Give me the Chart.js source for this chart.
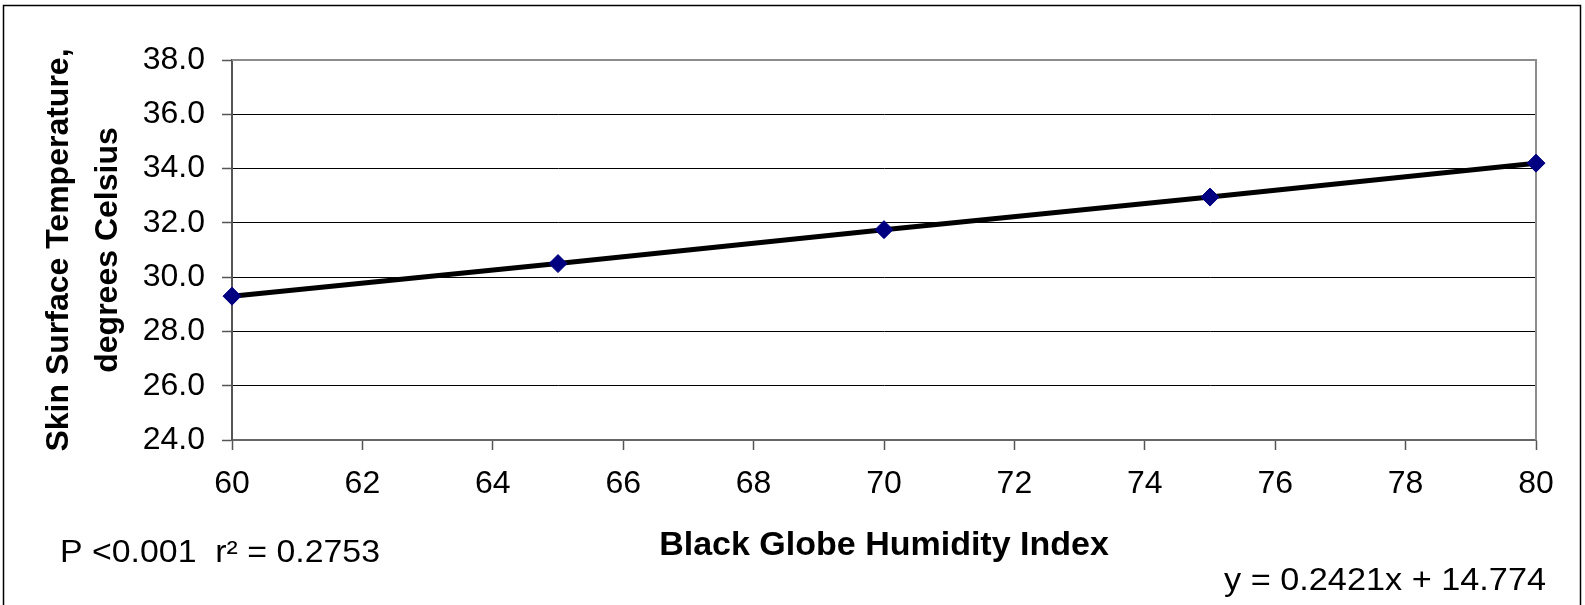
<!DOCTYPE html>
<html>
<head>
<meta charset="utf-8">
<script src="https://cdn.jsdelivr.net/npm/chart.js@4.4.0/dist/chart.umd.min.js"></script>
<style>
  html, body { margin: 0; padding: 0; background: #fff; }
  #wrap { width: 1585px; height: 605px; }
</style>
</head>
<body>
<div id="wrap"><canvas id="c" width="1585" height="605"></canvas></div>
<script>
// ---- data ----
const bghiValues = [60, 65, 70, 75, 80];
const skinTemps = [29.3, 30.5, 31.75, 32.95, 34.2];
const yTickLabels = ['24.0', '26.0', '28.0', '30.0', '32.0', '34.0', '36.0', '38.0'];
const yTickValues = [24, 26, 28, 30, 32, 34, 36, 38];
const xTickLabels = ['60', '62', '64', '66', '68', '70', '72', '74', '76', '78', '80'];
const yAxisTitle = ['Skin Surface Temperature,', 'degrees Celsius'];
const xAxisTitle = 'Black Globe Humidity Index';
const statsText = 'P <0.001  r\u00B2 = 0.2753';
const equationText = 'y = 0.2421x + 14.774';

const FONT = "'Liberation Sans', Arial, sans-serif";

const decor = {
  id: 'decor',
  beforeDraw(chart) {
    const ctx = chart.ctx;
    ctx.save();
    ctx.fillStyle = '#fff';
    ctx.fillRect(0, 0, chart.width, chart.height);
    ctx.restore();
  },
  beforeDatasetsDraw(chart) {
    const ctx = chart.ctx, a = chart.chartArea;
    ctx.save();
    ctx.strokeStyle = '#8c8c8c';
    ctx.lineWidth = 2;
    ctx.beginPath();
    ctx.moveTo(a.left, a.top);
    ctx.lineTo(a.right, a.top);
    ctx.lineTo(a.right, a.bottom);
    ctx.stroke();
    ctx.restore();
  },
  afterDraw(chart) {
    const ctx = chart.ctx;
    ctx.save();
    ctx.strokeStyle = '#000';
    ctx.lineWidth = 1.5;
    ctx.strokeRect(3.5, 5.5, 1577, 620);
    ctx.fillStyle = '#000';
    ctx.textBaseline = 'alphabetic';
    ctx.textAlign = 'left';
    ctx.font = '31px ' + FONT;
    const drawFit = (txt, x, y, w) => {
      const m = ctx.measureText(txt).width;
      ctx.save();
      ctx.translate(x, y);
      ctx.scale(w / m, 1);
      ctx.fillText(txt, 0, 0);
      ctx.restore();
    };
    drawFit(statsText, 60, 562, 320);
    drawFit(equationText, 1224, 590, 322);
    ctx.restore();
  }
};

new Chart(document.getElementById('c'), {
  type: 'scatter',
  data: {
    datasets: [{
      data: bghiValues.map((x, i) => ({ x: x, y: skinTemps[i] })),
      showLine: true,
      clip: false,
      borderColor: '#000',
      borderWidth: 5,
      pointStyle: 'rectRot',
      pointRadius: 9,
      pointBackgroundColor: '#000080',
      pointBorderColor: '#000080',
      pointBorderWidth: 1,
      tension: 0
    }]
  },
  options: {
    responsive: false,
    devicePixelRatio: 1,
    animation: false,
    layout: { padding: { left: 0, top: 60, right: 49, bottom: 0 } },
    plugins: { legend: { display: false }, tooltip: { enabled: false } },
    scales: {
      x: {
        type: 'linear',
        min: 60, max: 80,
        afterFit(s) { s.height = 165; },
        afterBuildTicks(s) { s.ticks = xTickLabels.map(l => ({ value: Number(l) })); },
        ticks: {
          callback: (v) => xTickLabels[xTickLabels.indexOf(String(v))],
          font: { family: FONT, size: 32 },
          color: '#000',
          padding: 15,
          maxRotation: 0,
          autoSkip: false
        },
        grid: { drawOnChartArea: false, drawTicks: true, tickLength: 10, tickColor: '#555', tickWidth: 1.5 },
        border: { display: true, color: '#666', width: 2 },
        title: {
          display: true,
          text: xAxisTitle,
          font: { family: FONT, size: 34, weight: 'bold', lineHeight: 1.2 },
          color: '#000',
          padding: { top: 0, bottom: 39 }
        }
      },
      y: {
        type: 'linear',
        min: 24, max: 38,
        afterFit(s) { s.width = 232; },
        afterBuildTicks(s) { s.ticks = yTickValues.map(v => ({ value: v })); },
        ticks: {
          callback: (v) => yTickLabels[yTickValues.indexOf(v)],
          font: { family: FONT, size: 32 },
          color: '#000',
          padding: 17,
          autoSkip: false
        },
        grid: { color: '#000', lineWidth: 1, drawTicks: true, tickLength: 10, tickColor: '#555', tickWidth: 1.5 },
        border: { display: true, color: '#555', width: 2 },
        title: {
          display: true,
          text: yAxisTitle,
          font: { family: FONT, size: 32, weight: 'bold', lineHeight: 1.55 },
          color: '#000',
          padding: { top: 34, bottom: 0 }
        }
      }
    }
  },
  plugins: [decor]
});
</script>
</body>
</html>
